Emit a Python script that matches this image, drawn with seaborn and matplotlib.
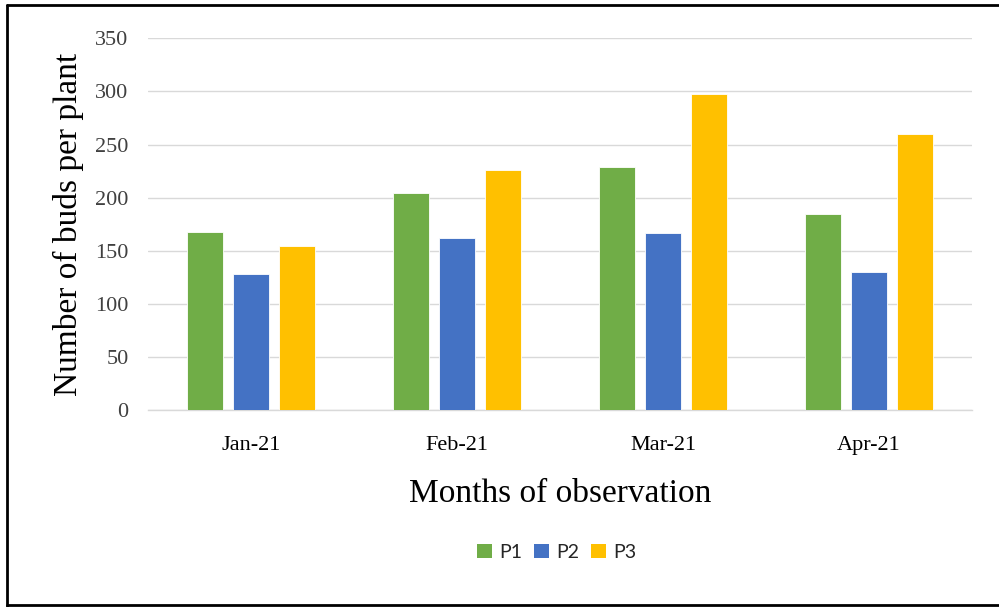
import numpy as np
import pandas as pd
import matplotlib
matplotlib.use("Agg")
import matplotlib.pyplot as plt
import seaborn as sns
from matplotlib.lines import Line2D
from matplotlib.patches import Patch

months = ["Jan-21", "Feb-21", "Mar-21", "Apr-21"]
series_names = ["P1", "P2", "P3"]
p1 = [168, 204, 229, 185]
p2 = [128, 162, 167, 130]
p3 = [154, 226, 298, 260]
colors = ["#70AD47", "#4472C4", "#FFC000"]
y_ticks = [0, 50, 100, 150, 200, 250, 300, 350]

df = pd.DataFrame({
    "Month": months * 3,
    "Series": [s for s in series_names for _ in months],
    "Value": p1 + p2 + p3,
})

sns.set_theme(style="white")
plt.rcParams["font.family"] = ["Liberation Serif", "DejaVu Serif"]

W, H = 999, 607
fig = plt.figure(figsize=(W / 100, H / 100), dpi=100)
ax = fig.add_axes([148 / W, 1 - 410 / H, (972 - 148) / W, (410 - 38.3) / H])

sns.barplot(data=df, x="Month", y="Value", hue="Series", order=months,
            hue_order=series_names, palette=colors, width=0.663, gap=0.21,
            edgecolor="white", linewidth=0.6, saturation=1, ax=ax, legend=False,
            zorder=3)

ax.set_xlim(-0.5, 3.5)
ax.set_ylim(0, 350)
ax.set_yticks(y_ticks)
ax.yaxis.grid(True, color="#d9d9d9", linewidth=1.0, zorder=0)
ax.set_axisbelow(True)
for s in ["top", "right", "left"]:
    ax.spines[s].set_visible(False)
ax.spines["bottom"].set_color("#d9d9d9")
ax.spines["bottom"].set_linewidth(1.0)

ax.tick_params(axis="y", length=0, pad=14, labelsize=16, labelcolor="#404040")
ax.set_xticks(range(len(months)))
ax.set_xticklabels(months)
ax.tick_params(axis="x", which="major", length=0, pad=19, labelsize=16, labelcolor="black")
ax.set_xticks([-0.5, 0.5, 1.5, 2.5, 3.5], minor=True)
ax.tick_params(axis="x", which="minor", length=5, width=1.0, color="#d9d9d9", direction="out")

ax.set_xlabel("Months of observation", fontsize=24, labelpad=17, color="black")
ax.set_ylabel("Number of buds per plant", fontsize=24, labelpad=8, color="black")

handles = [Patch(facecolor=c, edgecolor="none", label=n) for c, n in zip(colors, series_names)]
fig.legend(handles=handles, loc="center", bbox_to_anchor=(557 / W, 1 - 552 / H), ncol=3,
           frameon=False, prop={"family": "Lato", "size": 14}, handlelength=0.75,
           handleheight=0.75, handletextpad=0.4, columnspacing=0.6)

# outer frame
fig.add_artist(Line2D([7 / W, 7 / W], [0, 1 - 5 / H], transform=fig.transFigure, color="black", lw=2))
fig.add_artist(Line2D([7 / W, 1], [1 - 5 / H, 1 - 5 / H], transform=fig.transFigure, color="black", lw=2))
fig.add_artist(Line2D([7 / W, 1], [1 - 605 / H, 1 - 605 / H], transform=fig.transFigure, color="black", lw=2))

fig.savefig("out.png", dpi=100)
